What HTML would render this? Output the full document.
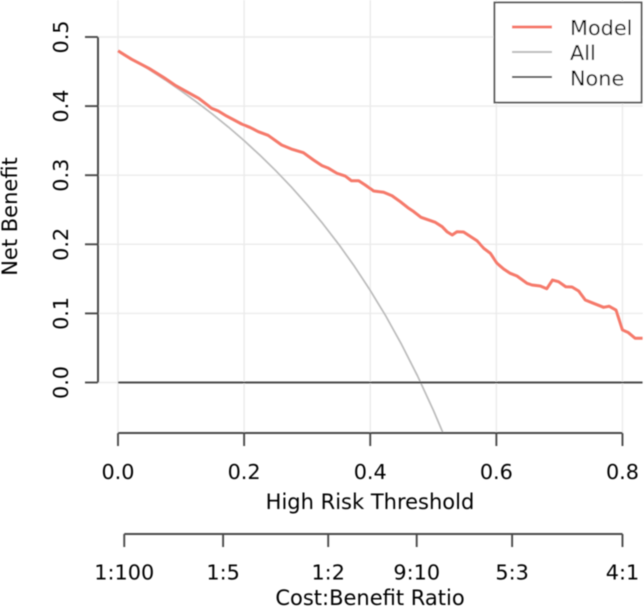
<!DOCTYPE html>
<html>
<head>
<meta charset="utf-8">
<style>
html,body{margin:0;padding:0;background:#fff;width:644px;height:610px;overflow:hidden}
svg{display:block;font-family:"DejaVu Sans","Liberation Sans",sans-serif;fill:#000}
text{fill:#000}
</style>
</head>
<body>
<svg id="chart" width="644" height="610" viewBox="0 0 644 610" xmlns="http://www.w3.org/2000/svg">
  <defs><clipPath id="plot-clip"><rect x="98" y="0" width="544.7" height="433"/></clipPath>
  <filter id="soft" x="-5%" y="-5%" width="110%" height="110%"><feGaussianBlur stdDeviation="0.4"/></filter></defs>
  <g id="root" filter="url(#soft)">
    <g id="grid"></g>
    <g id="series" clip-path="url(#plot-clip)"></g>
    <g id="axes"></g>
    <text transform="translate(17,216.5) rotate(-90)" text-anchor="middle" font-size="21">Net Benefit</text>
    <text x="370" y="509" text-anchor="middle" font-size="21">High Risk Threshold</text>
    <text x="370" y="605" text-anchor="middle" font-size="21">Cost:Benefit Ratio</text>
    <g>
      <rect x="494.5" y="2.5" width="147" height="100" fill="#fff" stroke="#555" stroke-width="1.8"/>
      <line x1="512" x2="552" y1="27" y2="27" stroke="#F5796B" stroke-width="3"/>
      <line x1="512" x2="552" y1="52" y2="52" stroke="#BBBBBB" stroke-width="1.9"/>
      <line x1="512" x2="552" y1="77" y2="77" stroke="#555555" stroke-width="1.9"/>
      <text x="570" y="35" font-size="20.8">Model</text>
      <text x="570" y="60" font-size="20.8">All</text>
      <text x="570" y="85.5" font-size="20.8">None</text>
    </g>
  </g>
</svg>
<script>
var xTicks = ["0.0", "0.2", "0.4", "0.6", "0.8"];
var yTicks = ["0.0", "0.1", "0.2", "0.3", "0.4", "0.5"];
var costLabels = ["1:100", "1:5", "1:2", "9:10", "5:3", "4:1"];
var modelThresholds = [0,.0217,.049,.072,.09,.106,.128,.1486,.159,.172,.196,.209,.2225,.238,.2595,.275,.294,.31,.3235,.334,.347,.3605,.37,.3817,.392,.4055,.4213,.4345,.4477,.461,.469,.4805,.5032,.514,.5217,.53,.5375,.548,.5693,.58,.5905,.601,.6116,.622,.6327,.6486,.6565,.6696,.68,.689,.6986,.71,.72,.7305,.741,.7515,.77,.779,.7897,.8,.8087,.82,.832];
var modelValues = [.48,.4677,.4547,.4417,.4305,.4223,.4113,.3968,.3929,.3857,.3741,.3693,.363,.3577,.3437,.3379,.3326,.322,.3138,.31,.3028,.2988,.292,.292,.2858,.2771,.2753,.2703,.2617,.2521,.2472,.2391,.2318,.2255,.2182,.2135,.2182,.2178,.2052,.1942,.187,.1725,.1643,.158,.1541,.1435,.1411,.1397,.1357,.1483,.1459,.1386,.1382,.1324,.1194,.1155,.1088,.1103,.1049,.076,.0726,.064,.064];
var allThresholds = [0,.025,.05,.075,.1,.125,.15,.175,.2,.225,.25,.275,.3,.325,.35,.375,.4,.425,.45,.475,.5,.515];
var allValues = [.48,.4667,.4526,.4378,.4222,.4057,.3882,.3697,.35,.329,.3067,.2828,.2571,.2296,.2,.168,.1333,.0957,.0545,.0095,-.04,-.0722];
var noneThresholds = [0,.832];
var noneValues = [0,0];

var NS = "http://www.w3.org/2000/svg";
function xScale(t){ return 118 + 630.6 * t; }
function yScale(v){ return 382.5 - 691 * v; }
function ratioToThreshold(label){
  var p = label.split(":");
  return Number(p[0]) / (Number(p[0]) + Number(p[1]));
}
function mk(parent, tag){
  var el = document.createElementNS(NS, tag);
  parent.appendChild(el);
  return el;
}
function seg(parent, x1, y1, x2, y2, color, width){
  var l = mk(parent, "line");
  l.setAttribute("x1", x1); l.setAttribute("y1", y1);
  l.setAttribute("x2", x2); l.setAttribute("y2", y2);
  l.setAttribute("stroke", color); l.setAttribute("stroke-width", width);
  return l;
}
function label(parent, s, x, y, rot){
  var t = mk(parent, "text");
  t.setAttribute("text-anchor", "middle");
  t.setAttribute("font-size", "20.8");
  if (rot) { t.setAttribute("transform", "translate(" + x + "," + y + ") rotate(-90)"); }
  else { t.setAttribute("x", x); t.setAttribute("y", y); }
  t.textContent = s;
  return t;
}
function points(ts, vs){
  return ts.map(function(t, i){ return xScale(t).toFixed(2) + "," + yScale(vs[i]).toFixed(2); }).join(" ");
}
function curve(parent, ts, vs, color, width){
  var p = mk(parent, "polyline");
  p.setAttribute("points", points(ts, vs));
  p.setAttribute("fill", "none");
  p.setAttribute("stroke", color);
  p.setAttribute("stroke-width", width);
  p.setAttribute("stroke-linejoin", "round");
  return p;
}

var grid = document.getElementById("grid");
var axes = document.getElementById("axes");
var series = document.getElementById("series");
var AXIS = "#4A4A4A", GRID = "#EBEBEB";

xTicks.forEach(function(s){
  var x = xScale(Number(s));
  var g = seg(grid, x, 0, x, 433, GRID, 1.4);
  
  
});
yTicks.forEach(function(s){
  var y = yScale(Number(s));
  var g = seg(grid, 98, y, 642.7, y, GRID, 1.4);
  
  
});

var allLine = curve(series, allThresholds, allValues, "#BBBBBB", 1.7);


var noneLine = curve(series, noneThresholds, noneValues, "#4A4A4A", 2);


var modelLine = curve(series, modelThresholds, modelValues, "#F5796B", 3);



var yAxis = seg(axes, 98, yScale(0), 98, yScale(0.5), AXIS, 2);


yTicks.forEach(function(s){
  var y = yScale(Number(s));
  var tick = seg(axes, 85, y, 98, y, AXIS, 1.9);
  
  
  var t = label(axes, s, 68, y, true);
  
  
});

var xAxis = seg(axes, xScale(0), 433, xScale(Number(xTicks[xTicks.length - 1])), 433, AXIS, 2);


xTicks.forEach(function(s){
  var x = xScale(Number(s));
  var tick = seg(axes, x, 433, x, 446, AXIS, 1.9);
  
  
  var t = label(axes, s, x, 479);
  
  
});

var costAxis = seg(axes, xScale(ratioToThreshold(costLabels[0])), 534, xScale(ratioToThreshold(costLabels[costLabels.length - 1])), 534, AXIS, 2);


costLabels.forEach(function(s){
  var x = xScale(ratioToThreshold(s));
  var tick = seg(axes, x, 534, x, 547, AXIS, 1.9);
  
  
  var t = label(axes, s, x, 579.5);
  
  
});
</script>
</body>
</html>
